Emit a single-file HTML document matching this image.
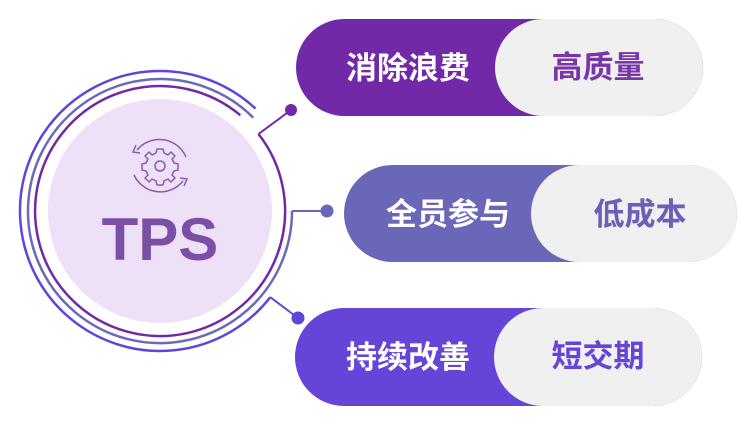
<!DOCTYPE html>
<html><head><meta charset="utf-8"><style>
html,body{margin:0;padding:0;background:#fff;}
body{width:754px;height:432px;overflow:hidden;}
text{font-family:"Liberation Sans","Noto Sans CJK SC",sans-serif;font-weight:bold;}
</style></head><body>
<svg width="754" height="432" viewBox="0 0 754 432" xmlns="http://www.w3.org/2000/svg">
<rect x="296" y="19" width="407" height="97" rx="48.5" fill="#7229a8"/>
<rect x="495" y="19" width="208" height="97" rx="48.5" fill="#f0f0f1"/>
<text x="408" y="79" font-size="31" fill="#fff" text-anchor="middle">消除浪费</text>
<text x="598" y="78" font-size="31" fill="#7a35a8" text-anchor="middle">高质量</text>

<rect x="344" y="165" width="393" height="97" rx="48.5" fill="#6b67b8"/>
<rect x="531" y="165" width="206" height="97" rx="48.5" fill="#f0f0f1"/>
<text x="448" y="225" font-size="31" fill="#fff" text-anchor="middle">全员参与</text>
<text x="640" y="225" font-size="31" fill="#6b5fb8" text-anchor="middle">低成本</text>

<rect x="295" y="308" width="407" height="98" rx="49" fill="#6644d8"/>
<rect x="494" y="308" width="208" height="98" rx="49" fill="#f0f0f1"/>
<text x="408" y="368" font-size="31" fill="#fff" text-anchor="middle">持续改善</text>
<text x="598" y="367" font-size="31" fill="#6644d8" text-anchor="middle">短交期</text>

<circle cx="160" cy="211" r="112" fill="#ede0f7"/>
<path d="M 255.5 108.6 A 140 140 0 1 0 270.3 297.2" fill="none" stroke="#6046d8" stroke-width="2.5"/>
<path d="M 253.3 117.7 A 132 132 0 1 0 292 211" fill="none" stroke="#6b6ab8" stroke-width="2.5"/>
<path d="M 240.3 115.2 A 125 125 0 1 0 258.5 134" fill="none" stroke="#7229a8" stroke-width="2.5"/>
<line x1="258.5" y1="134" x2="291" y2="110" stroke="#7229a8" stroke-width="2"/>
<circle cx="291" cy="110" r="6" fill="#7229a8"/>
<line x1="292" y1="211" x2="327" y2="211" stroke="#6b67b8" stroke-width="2"/>
<circle cx="327" cy="211" r="6.5" fill="#6b67b8"/>
<line x1="270.3" y1="297.2" x2="298" y2="318" stroke="#6046d8" stroke-width="2"/>
<circle cx="298" cy="318" r="6.5" fill="#6046d8"/>

<g fill="none" stroke="#8a5ab0" stroke-width="1.5">
<path d="M 137 150 A 29 29 0 0 1 186 157"/>
<path d="M 183 181 A 29 29 0 0 1 134 175"/>
<path d="M 136 145 L 133 152 L 140 153"/>
<path d="M 184 186 L 187 179 L 180 178"/>
<circle cx="160" cy="166" r="5"/>
<path d="M157 149 h6 l1 4 l4 2 l3-3 l4 4 l-3 3 l2 4 l4 1 v6 l-4 1 l-2 4 l3 3 l-4 4 l-3-3 l-4 2 l-1 4 h-6 l-1-4 l-4-2 l-3 3 l-4-4 l3-3 l-2-4 l-4-1 v-6 l4-1 l2-4 l-3-3 l4-4 l3 3 l4-2 z" stroke-linejoin="round"/>
</g>
<text x="160" y="260" font-size="60" fill="#7b4fa5" text-anchor="middle">TPS</text>
</svg>
</body></html>
